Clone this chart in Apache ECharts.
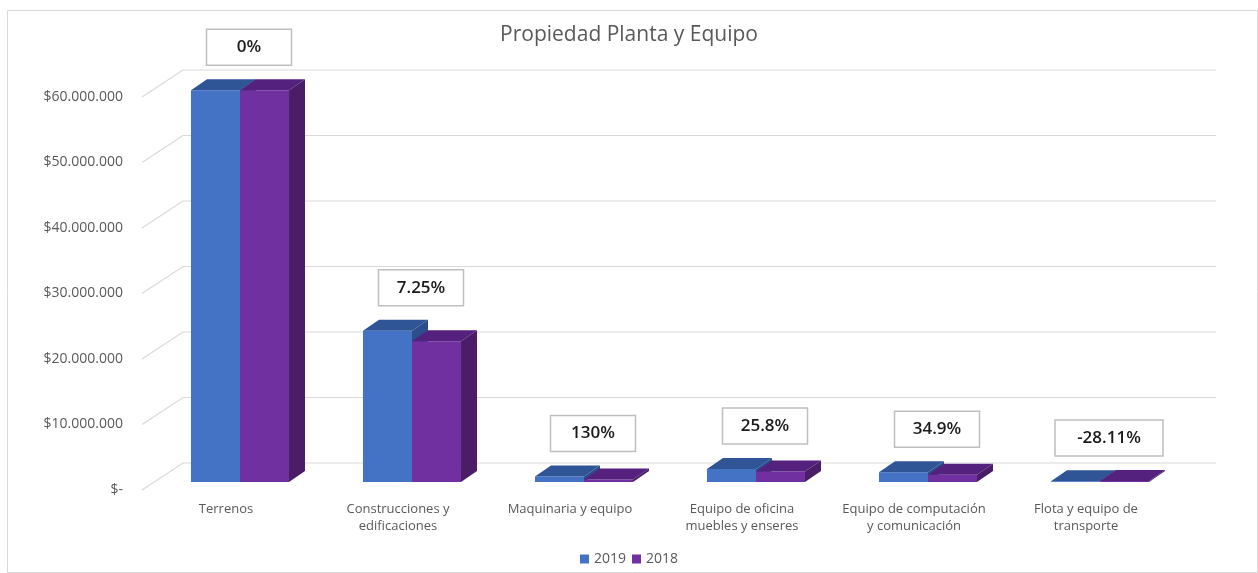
<!DOCTYPE html>
<html>
<head>
<meta charset="utf-8">
<script src="https://cdn.jsdelivr.net/npm/echarts@6/dist/echarts.min.js"></script>
<style>
  html, body { margin: 0; padding: 0; background: #fff; }
  #chart { width: 1258px; height: 573px; }
</style>
</head>
<body>
<div id="chart"></div>
<script>
// data
const categories = [
  'Terrenos',
  'Construcciones y\nedificaciones',
  'Maquinaria y equipo',
  'Equipo de oficina\nmuebles y enseres',
  'Equipo de computación\ny comunicación',
  'Flota y equipo de\ntransporte'
];
const values2019 = [59800000, 23100000, 850000, 2000000, 1500000, 120000];
const values2018 = [59800000, 21500000, 370000, 1590000, 1110000, 167000];
const changeLabels = ['0%', '7.25%', '130%', '25.8%', '34.9%', '-28.11%'];
const yTicks = [0, 10000000, 20000000, 30000000, 40000000, 50000000, 60000000];

const textColor = '#595959';
const fontFamily = '"Open Sans", "Noto Sans", sans-serif';
const depth = [16, -11];

// front money labels: $60.000.000 ... $-
const formatMoney = (v) => v === 0 ? '$-' : '$' + String(v).replace(/\B(?=(\d{3})+(?!\d))/g, '.');

// draws one 3D bar (front, top, side faces)
const makeBar = (left, colors) => (params, api) => {
  const idx = api.value(0);
  const v = api.value(1);
  const base = api.coord([idx, 0]);
  const top = api.coord([idx, v]);
  const w = api.size([1, 0])[0] * 0.285;
  const x0 = left ? base[0] - w : base[0];
  const x1 = x0 + w;
  const [dx, dy] = depth;
  return {
    type: 'group',
    children: [
      { type: 'rect', shape: { x: x0, y: top[1], width: w, height: base[1] - top[1] }, style: { fill: colors[0] } },
      { type: 'polygon', shape: { points: [[x0, top[1]], [x1, top[1]], [x1 + dx, top[1] + dy], [x0 + dx, top[1] + dy]] }, style: { fill: colors[1] } },
      { type: 'polygon', shape: { points: [[x1, top[1]], [x1 + dx, top[1] + dy], [x1 + dx, base[1] + dy], [x1, base[1]]] }, style: { fill: colors[2] } }
    ]
  };
};

const chart = echarts.init(document.getElementById('chart'));

const option = {
  animation: false,
  backgroundColor: '#fff',
  textStyle: { fontFamily: fontFamily },
  title: {
    text: 'Propiedad Planta y Equipo',
    left: 'center',
    top: 20,
    textStyle: { color: textColor, fontSize: 21, fontWeight: 'normal', fontFamily: fontFamily }
  },
  graphic: [{
    type: 'rect',
    shape: { x: 7.5, y: 10.5, width: 1250, height: 562 },
    style: { fill: 'none', stroke: '#d9d9d9', lineWidth: 1 },
    silent: true
  }],
  legend: {
    data: ['2019', '2018'],
    bottom: 2,
    left: 'center',
    icon: 'rect',
    itemWidth: 9,
    itemHeight: 9,
    itemGap: 6,
    textStyle: { color: textColor, fontSize: 14, fontFamily: fontFamily }
  },
  grid: [
    // bars
    { left: 154, right: 72, top: 89, bottom: 91 },
    // back wall + front labels
    { left: 142, right: 83, top: 97, bottom: 83 }
  ],
  xAxis: [
    {
      type: 'category',
      gridIndex: 0,
      data: categories,
      axisLine: { show: false },
      axisTick: { show: false },
      axisLabel: {
        interval: 0,
        margin: 19,
        color: textColor,
        fontSize: 13,
        lineHeight: 17,
        fontFamily: fontFamily,
        padding: [0, 28, 0, 0]
      }
    },
    { type: 'value', gridIndex: 1, min: 0, max: 1, show: false }
  ],
  yAxis: [
    { type: 'value', gridIndex: 0, min: 0, max: 60000000, show: false },
    {
      type: 'value',
      gridIndex: 1,
      min: 0,
      max: 60000000,
      interval: 10000000,
      axisLine: { show: false },
      axisTick: { show: false },
      splitLine: { show: false },
      axisLabel: {
        margin: 19,
        color: textColor,
        fontSize: 14,
        fontFamily: fontFamily,
        formatter: formatMoney
      }
    }
  ],
  series: [
    {
      name: 'wall',
      type: 'custom',
      xAxisIndex: 1,
      yAxisIndex: 1,
      silent: true,
      z: 1,
      data: yTicks.map(v => [0, v]),
      renderItem: (params, api) => {
        const v = api.value(1);
        const p0 = api.coord([0, v]);
        const p1 = api.coord([1, v]);
        const back = [41, -27];
        return {
          type: 'polyline',
          shape: { points: [p0, [p0[0] + back[0], p0[1] + back[1]], [p1[0] + back[0], p1[1] + back[1]]] },
          style: { stroke: '#d9d9d9', lineWidth: 1.2, fill: 'none' }
        };
      }
    },
    {
      name: '2019',
      type: 'custom',
      xAxisIndex: 0,
      yAxisIndex: 0,
      z: 2,
      itemStyle: { color: '#4472C4' },
      data: values2019.map((v, i) => [i, v]),
      renderItem: makeBar(true, ['#4472C4', '#2F5597', '#2B4E8C'])
    },
    {
      name: '2018',
      type: 'custom',
      xAxisIndex: 0,
      yAxisIndex: 0,
      z: 3,
      itemStyle: { color: '#7030A0' },
      data: values2018.map((v, i) => [i, v]),
      renderItem: makeBar(false, ['#7030A0', '#55217F', '#4A1D66'])
    },
    {
      name: 'change',
      type: 'custom',
      xAxisIndex: 0,
      yAxisIndex: 0,
      z: 4,
      silent: true,
      data: changeLabels.map((t, i) => [i, Math.max(values2019[i], values2018[i])]),
      renderItem: (params, api) => {
        const p = api.coord([api.value(0), api.value(1)]);
        const label = changeLabels[params.dataIndex];
        const w = label.length > 6 ? 108 : 85;
        const h = 36;
        const cx = p[0] + 9;
        const cy = p[1] - 43;
        return {
          type: 'group',
          children: [
            { type: 'rect', shape: { x: cx - w / 2, y: cy - h / 2, width: w, height: h }, style: { fill: '#fff', stroke: '#bfbfbf', lineWidth: 1.5 } },
            { type: 'text', x: cx, y: cy, style: { text: label, fill: '#1a1a1a', fontSize: 17, fontWeight: 600, fontFamily: fontFamily, align: 'center', verticalAlign: 'middle' } }
          ]
        };
      }
    }
  ]
};

chart.setOption(option);
window.addEventListener('resize', () => chart.resize());
</script>
</body>
</html>
